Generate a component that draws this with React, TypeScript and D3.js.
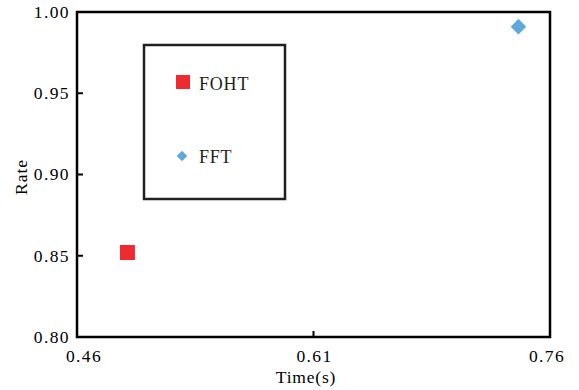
import { useEffect, useRef } from 'react'
import * as d3 from 'd3'

const xTicks = [0.46, 0.61, 0.76]
const yTicks = [0.8, 0.85, 0.9, 0.95, 1.0]
const foht = [{ time: 0.492, rate: 0.852 }]
const fft = [{ time: 0.74, rate: 0.991 }]
const legendItems = ['FOHT', 'FFT']

const RED = '#ee2c30'
const BLUE = '#5ea8dc'

export default function App() {
  const ref = useRef<SVGSVGElement>(null)

  useEffect(() => {
    const width = 579
    const height = 390
    const m = { top: 12, right: 29, bottom: 53, left: 77 }
    const svg = d3.select(ref.current)
    svg.selectAll('*').remove()

    const x = d3.scaleLinear().domain([0.46, 0.76]).range([m.left, width - m.right])
    const y = d3.scaleLinear().domain([0.8, 1.0]).range([height - m.bottom, m.top])

    const font = "'Liberation Serif', 'Times New Roman', serif"

    // frame
    svg.append('rect')
      .attr('x', x(0.46)).attr('y', y(1.0))
      .attr('width', x(0.76) - x(0.46)).attr('height', y(0.8) - y(1.0))
      .attr('fill', 'none').attr('stroke', '#000').attr('stroke-width', 2.5)

    // y ticks (inward)
    svg.append('g').selectAll('line')
      .data(yTicks.slice(1, -1))
      .join('line')
      .attr('x1', x(0.46)).attr('x2', x(0.46) + 6)
      .attr('y1', d => y(d)).attr('y2', d => y(d))
      .attr('stroke', '#000').attr('stroke-width', 2)

    svg.append('g').selectAll('text')
      .data(yTicks)
      .join('text')
      .attr('x', x(0.46) - 7)
      .attr('y', d => y(d))
      .attr('dy', '0.34em')
      .attr('text-anchor', 'end')
      .style('font-family', font).style('font-size', '17.5px').style('letter-spacing', '1.4px')
      .text(d => d.toFixed(2))

    // x ticks (inward)
    svg.append('g').selectAll('line')
      .data(xTicks.slice(1, -1))
      .join('line')
      .attr('x1', d => x(d)).attr('x2', d => x(d))
      .attr('y1', y(0.8)).attr('y2', y(0.8) - 6)
      .attr('stroke', '#000').attr('stroke-width', 2)

    svg.append('g').selectAll('text')
      .data(xTicks)
      .join('text')
      .attr('x', (d, i) => x(d) + (i === 0 ? 7 : i === xTicks.length - 1 ? -3 : 1))
      .attr('y', 362)
      .attr('text-anchor', 'middle')
      .style('font-family', font).style('font-size', '17.5px').style('letter-spacing', '1.4px')
      .text(d => d.toFixed(2))

    // axis titles
    svg.append('text')
      .attr('x', 306).attr('y', 383)
      .attr('text-anchor', 'middle')
      .style('font-family', font).style('font-size', '17.5px').style('letter-spacing', '0.8px')
      .text('Time(s)')

    svg.append('text')
      .attr('transform', `translate(27,177) rotate(-90)`)
      .attr('text-anchor', 'middle')
      .style('font-family', font).style('font-size', '17.5px').style('letter-spacing', '1px')
      .text('Rate')

    const square = d3.symbol().type(d3.symbolSquare)
    const diamond = d3.symbol().type(d3.symbolSquare)

    svg.append('g').selectAll('path')
      .data(foht)
      .join('path')
      .attr('transform', d => `translate(${x(d.time)},${y(d.rate)})`)
      .attr('d', square.size(15 * 15)())
      .attr('fill', RED)

    svg.append('g').selectAll('path')
      .data(fft)
      .join('path')
      .attr('transform', d => `translate(${x(d.time)},${y(d.rate)}) rotate(45)`)
      .attr('d', diamond.size(11 * 11)())
      .attr('fill', BLUE)

    // legend
    const lg = svg.append('g')
    lg.append('rect')
      .attr('x', 144).attr('y', 45).attr('width', 141).attr('height', 154)
      .attr('fill', 'none').attr('stroke', '#231f20').attr('stroke-width', 2.5)

    lg.append('path')
      .attr('transform', 'translate(183,82)')
      .attr('d', d3.symbol().type(d3.symbolSquare).size(14 * 14)())
      .attr('fill', RED)
    lg.append('path')
      .attr('transform', 'translate(182,156) rotate(45)')
      .attr('d', d3.symbol().type(d3.symbolSquare).size(7.5 * 7.5)())
      .attr('fill', BLUE)

    lg.selectAll('text.l')
      .data(legendItems)
      .join('text')
      .attr('class', 'l')
      .attr('x', 199)
      .attr('y', (d, i) => (i === 0 ? 90 : 163))
      .style('font-family', font).style('font-size', '18px').style('letter-spacing', '0.8px')
      .attr('fill', '#231f20')
      .text(d => d)
  }, [])

  return (
    <svg
      ref={ref}
      width={579}
      height={390}
      style={{ position: 'absolute', left: 0, top: 0, background: '#fff' }}
    />
  )
}
